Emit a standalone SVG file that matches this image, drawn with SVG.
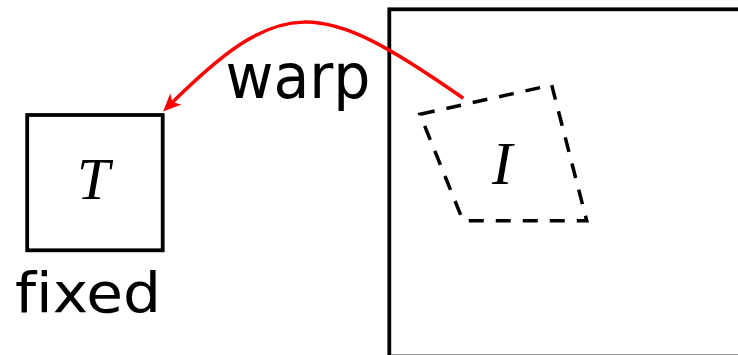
<svg xmlns="http://www.w3.org/2000/svg" width="738" height="355" viewBox="0 0 738 355">
  <style>
    .box { fill: none; stroke: #000; stroke-width: 3.8; }
    .dash { fill: none; stroke: #000; stroke-width: 3.5; stroke-dasharray: 15 12; }
    .math { font-family: "Liberation Serif", "Times New Roman", serif; font-style: italic; fill: #000; }
    .lbl { font-family: "DejaVu Sans", "Liberation Sans", sans-serif; fill: #000; font-variant-ligatures: none; font-feature-settings: "liga" 0; }
    .warp { fill: none; stroke: #ff0000; stroke-width: 3.5; }
  </style>
  <defs>
    <marker id="arrow" markerUnits="userSpaceOnUse" viewBox="-16 -10 22 20" markerWidth="22" markerHeight="20" refX="0" refY="0" orient="auto">
      <path d="M4,0 L-14,-8 L-9,0 L-14,8 Z" fill="#ff0000"/>
    </marker>
  </defs>
  <rect width="738" height="355" fill="#fff"/>
  <g id="node-I-frame">
    <rect class="box" x="389.3" y="9.3" width="400" height="347.2"/>
  </g>
  <g id="node-I">
    <polygon class="dash" points="420,114.3 551.7,85 586.7,220.7 463,220.7"/>
    <text class="math" x="492" y="184.3" font-size="61">I</text>
  </g>
  <g id="node-T">
    <rect class="box" x="27.2" y="115" width="135.5" height="135.3"/>
    <text class="math" x="77" y="199.3" font-size="59">T</text>
    <text class="lbl" x="15" y="311.7" font-size="56" textLength="146" lengthAdjust="spacingAndGlyphs">fixed</text>
  </g>
  <g id="connectors">
    <path class="warp" d="M463.3,98.3 C318.3,-3.1 281.6,-6.9 166,108.7" marker-end="url(#arrow)"/>
    <text class="lbl" x="225.5" y="97.7" font-size="62" textLength="145" lengthAdjust="spacingAndGlyphs">warp</text>
  </g>
</svg>
